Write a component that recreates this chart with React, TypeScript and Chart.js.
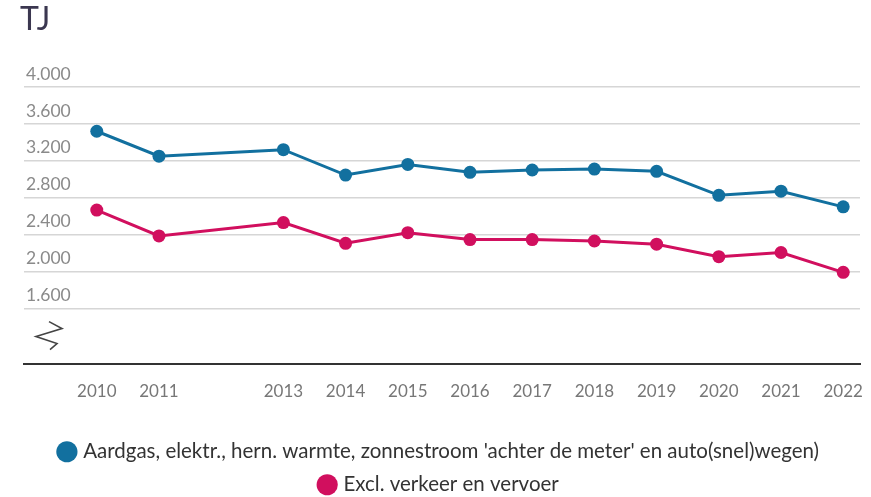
import { useEffect, useRef } from 'react';
import { Chart, registerables } from 'chart.js';

Chart.register(...registerables);

const unitLabel = 'TJ';
const years = [2010, 2011, 2013, 2014, 2015, 2016, 2017, 2018, 2019, 2020, 2021, 2022];
const totalSeries = [3520, 3250, 3320, 3045, 3160, 3075, 3100, 3110, 3085, 2825, 2870, 2700];
const exclTransport = [2665, 2385, 2530, 2305, 2420, 2345, 2345, 2330, 2295, 2160, 2205, 1990];
const yTicks = [1600, 2000, 2400, 2800, 3200, 3600, 4000];
const seriesLabels = [
  "Aardgas, elektr., hern. warmte, zonnestroom 'achter de meter' en auto(snel)wegen)",
  'Excl. verkeer en vervoer',
];
const seriesColors = ['#12709f', '#d10f5e'];

const FONT = 'Lato, "Open Sans", sans-serif';

const fmt = (n: number) => String(n).replace(/\B(?=(\d{3})+(?!\d))/g, '.');

const breakPlugin = {
  id: 'axisBreak',
  afterDraw(chart: any) {
    const { ctx, chartArea } = chart;
    const x0 = chartArea.left;
    const yb = chartArea.bottom;
    ctx.save();
    ctx.strokeStyle = '#444';
    ctx.lineWidth = 1.6;
    ctx.lineJoin = 'miter';
    ctx.beginPath();
    ctx.moveTo(x0 + 25, yb - 42);
    ctx.lineTo(x0 + 38, yb - 35);
    ctx.lineTo(x0 + 12, yb - 27);
    ctx.lineTo(x0 + 33, yb - 20);
    ctx.lineTo(x0 + 26, yb - 14);
    ctx.stroke();
    ctx.restore();
  },
};

export default function App() {
  const ref = useRef<HTMLCanvasElement | null>(null);

  useEffect(() => {
    if (!ref.current) return;
    const chart = new Chart(ref.current, {
      type: 'line',
      data: {
        datasets: [totalSeries, exclTransport].map((vals, i) => ({
          label: seriesLabels[i],
          data: years.map((y, j) => ({ x: y, y: vals[j] })),
          borderColor: seriesColors[i],
          backgroundColor: seriesColors[i],
          pointBackgroundColor: seriesColors[i],
          pointBorderWidth: 0,
          pointRadius: 6.5,
          pointHoverRadius: 6.5,
          borderWidth: 3,
          tension: 0,
        })),
      },
      options: {
        animation: false,
        responsive: false,
        layout: { padding: { left: 20, right: 11, top: 0, bottom: -8 } },
        plugins: {
          title: {
            display: true,
            text: unitLabel,
            align: 'start',
            color: '#3b3750',
            font: { family: FONT, size: 32, weight: 'normal' },
            padding: { top: 0, bottom: 48.6 },
          },
          legend: {
            position: 'bottom',
            labels: {
              usePointStyle: true,
              pointStyle: 'circle',
              boxWidth: 12,
              boxHeight: 15,
              color: '#333',
              font: { family: FONT, size: 20.5 },
              padding: 12.5,
            },
          },
          tooltip: { enabled: false },
        },
        scales: {
          x: {
            type: 'linear',
            min: 2008.83,
            max: 2022.27,
            afterBuildTicks: (s: any) => {
              s.ticks = years.map((v) => ({ value: v }));
            },
            afterFit: (s: any) => {
              s.paddingLeft = 0;
              s.paddingRight = 0;
              s.height += 9;
            },
            ticks: {
              color: '#777',
              font: { family: FONT, size: 17 },
              padding: 18,
              maxRotation: 0,
              autoSkip: false,
              callback: (v: any) => String(v),
            },
            grid: { display: false, drawTicks: false },
            border: { display: true, color: '#333', width: 2 },
          },
          y: {
            type: 'linear',
            min: 1000,
            max: 4000,
            afterBuildTicks: (s: any) => {
              s.ticks = yTicks.map((v) => ({ value: v }));
            },
            ticks: {
              mirror: true,
              labelOffset: -13,
              padding: 2,
              color: '#8a8a8a',
              font: { family: FONT, size: 17.5 },
              callback: (v: any) => fmt(Number(v)),
            },
            grid: { color: '#d6d6d6', lineWidth: 1.5, drawTicks: false },
            border: { display: false },
          },
        },
      },
      plugins: [breakPlugin],
    });
    return () => chart.destroy();
  }, []);

  return (
    <div style={{ position: 'fixed', left: 0, top: 0, width: 871, height: 497, background: '#fff' }}>
      <canvas ref={ref} width={871} height={497} />
    </div>
  );
}
